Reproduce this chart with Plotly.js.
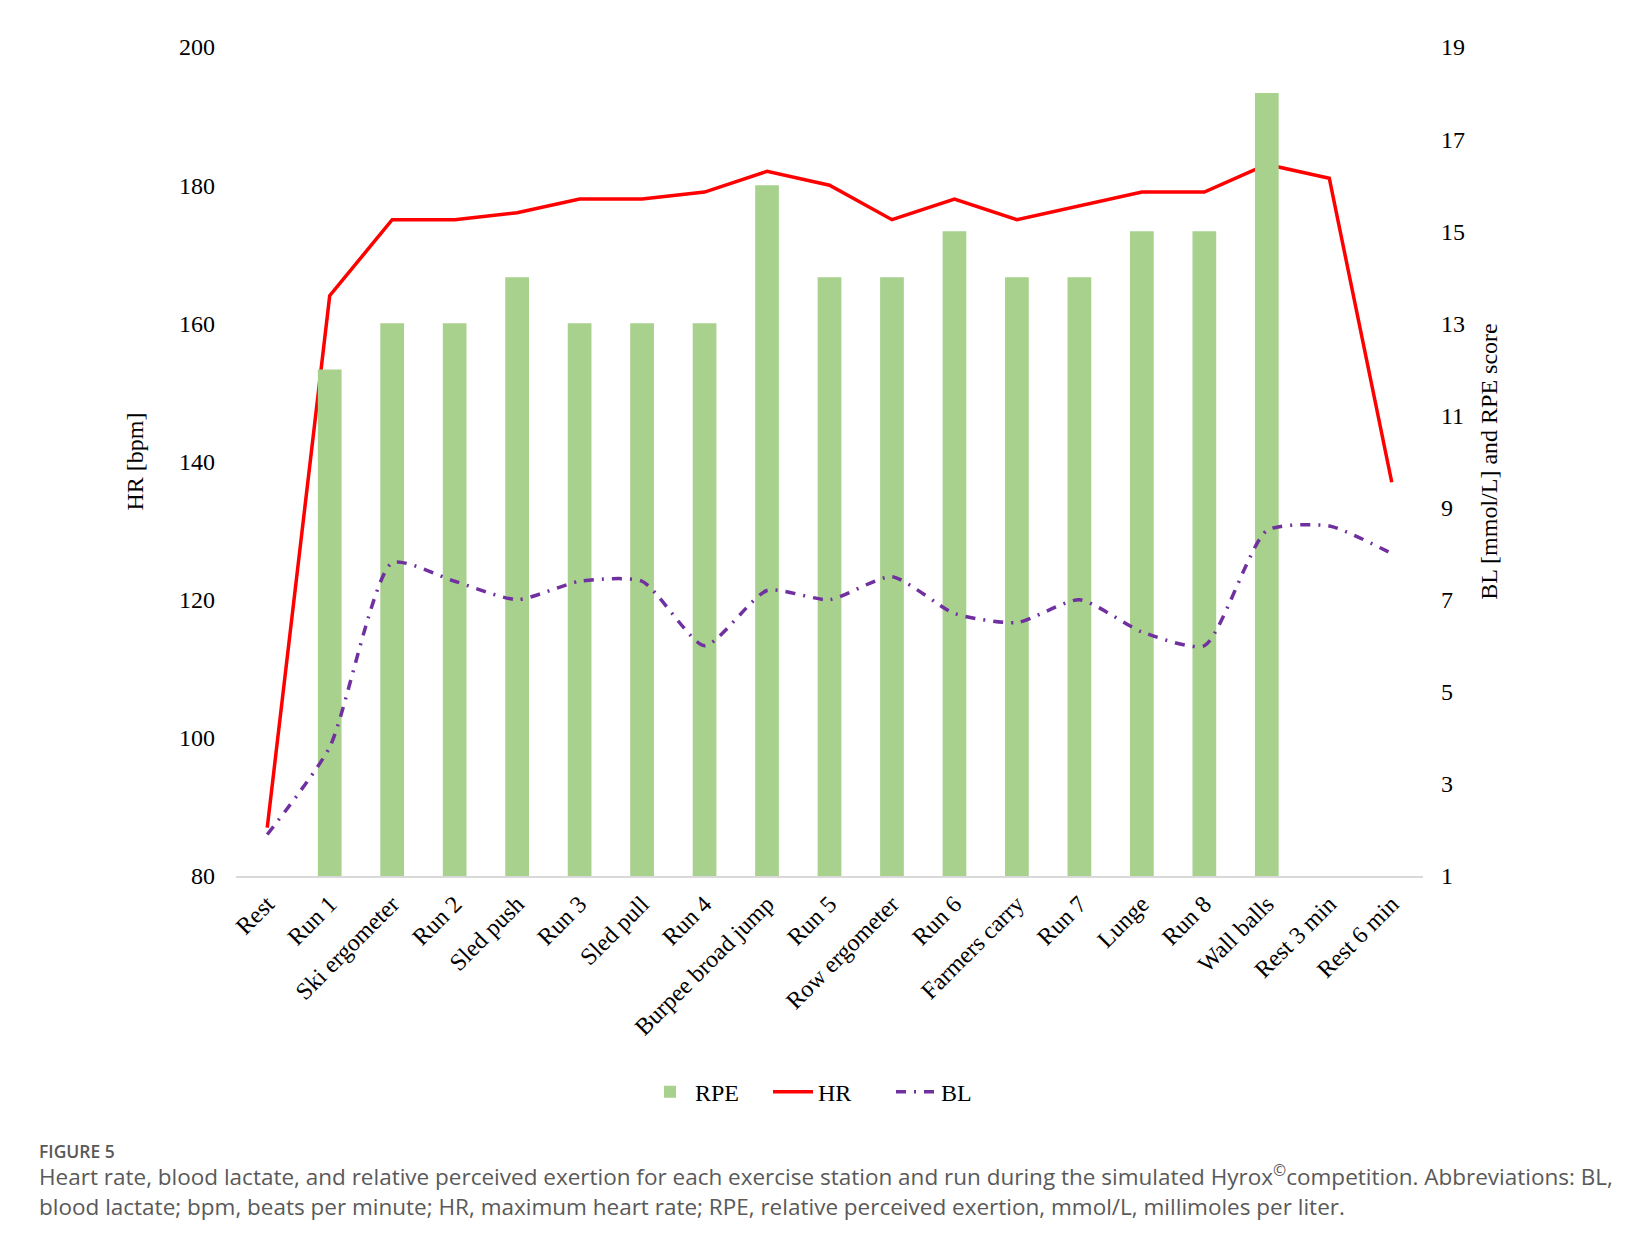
<!DOCTYPE html>
<html>
<head>
<meta charset="utf-8">
<script src="https://cdn.plot.ly/plotly-3.0.1.min.js"></script>
<style>
  html, body { margin: 0; padding: 0; background: #fff; }
  #plotly { width: 1632px; height: 1248px; }
</style>
</head>
<body>
<div id="plotly"></div>
<script>
var stations, hrValues, rpeValues, blValues, hrTicks, rightTicks, gridTicks;
var serif = '"Liberation Serif", "Times New Roman", serif';
var sans = '"Open Sans", "Noto Sans", sans-serif';

stations = ['Rest', 'Run 1', 'Ski ergometer', 'Run 2', 'Sled push', 'Run 3', 'Sled pull',
  'Run 4', 'Burpee broad jump', 'Run 5', 'Row ergometer', 'Run 6', 'Farmers carry',
  'Run 7', 'Lunge', 'Run 8', 'Wall balls', 'Rest 3 min', 'Rest 6 min'];

// HR [bpm], left axis
hrValues = [87, 164, 175, 175, 176, 178, 178, 179, 182, 180, 175, 178, 175, 177, 179, 179, 183, 181, 137];

// RPE score, right axis (no rating at rest)
rpeValues = [null, 12, 13, 13, 14, 13, 13, 13, 16, 14, 14, 15, 14, 14, 15, 15, 18, null, null];

// BL [mmol/L], right axis
blValues = [1.9, 3.8, 7.8, 7.4, 7.0, 7.4, 7.4, 6.0, 7.2, 7.0, 7.5, 6.7, 6.5, 7.0, 6.3, 6.0, 8.5, 8.6, 8.0];

hrTicks = [80, 100, 120, 140, 160, 180, 200];
gridTicks = [100, 120, 140, 160, 180];
rightTicks = [1, 3, 5, 7, 9, 11, 13, 15, 17, 19];

var rpe = {
  x: stations,
  y: rpeValues,
  name: 'RPE',
  type: 'bar',
  yaxis: 'y2',
  marker: { color: '#a9d18e' }
};

var hr = {
  x: stations,
  y: hrValues,
  name: 'HR',
  type: 'scatter',
  mode: 'lines',
  yaxis: 'y',
  line: { color: '#ff0000', width: 3.5 }
};

var bl = {
  x: stations,
  y: blValues,
  name: 'BL',
  type: 'scatter',
  mode: 'lines',
  yaxis: 'y2',
  line: { color: '#7030a0', width: 3.5, dash: '10px,8px,2px,8px', shape: 'spline', smoothing: 0.6 }
};

var layout = {
  width: 1632,
  height: 1248,
  margin: { l: 236, r: 209, t: 47, b: 372 },
  paper_bgcolor: '#ffffff',
  plot_bgcolor: '#ffffff',
  bargap: 0.62,
  showlegend: true,
  legend: {
    orientation: 'h',
    x: 0.5,
    xanchor: 'center',
    y: -0.2606,
    yanchor: 'middle',
    font: { family: serif, size: 24, color: '#000' },
    itemwidth: 40,
    entrywidth: 68,
    entrywidthmode: 'pixels',
    traceorder: 'normal'
  },
  xaxis: {
    type: 'category',
    showline: true,
    linecolor: '#d9d9d9',
    linewidth: 1.5,
    showgrid: false,
    ticks: '',
    tickangle: -45,
    ticklabelstandoff: 3,
    tickfont: { family: serif, size: 24, color: '#000' }
  },
  yaxis: {
    range: [80, 200],
    tickvals: hrTicks,
    showgrid: false,
    zeroline: false,
    showline: false,
    ticks: '',
    ticklabelstandoff: 20,
    tickfont: { family: serif, size: 24, color: '#000' },
    title: { text: 'HR [bpm]', font: { family: serif, size: 24, color: '#000' }, standoff: 28 }
  },
  yaxis2: {
    range: [1, 19],
    tickvals: rightTicks,
    overlaying: 'y',
    side: 'right',
    showgrid: false,
    zeroline: false,
    showline: false,
    ticks: '',
    ticklabelstandoff: 17,
    tickfont: { family: serif, size: 24, color: '#000' },
    title: { text: 'BL [mmol/L] and RPE score', font: { family: serif, size: 24, color: '#000' }, standoff: 16 }
  },
  yaxis3: {
    range: [80, 200],
    tickvals: gridTicks,
    overlaying: 'y',
    side: 'left',
    showticklabels: false,
    showgrid: true,
    gridcolor: '#e8e8e8',
    gridwidth: 1.3,
    zeroline: false,
    showline: false,
    ticks: ''
  },
  annotations: [
    {
      xref: 'paper', yref: 'paper',
      x: -0.168, y: -0.3314,
      xanchor: 'left', yanchor: 'middle',
      showarrow: false,
      text: 'FIGURE 5',
      font: { family: sans, size: 17.5, color: '#595959', weight: 600 }
    },
    {
      xref: 'paper', yref: 'paper',
      x: -0.168, y: -0.3387,
      xanchor: 'left', yanchor: 'top',
      align: 'left',
      showarrow: false,
      text: 'Heart rate, blood lactate, and relative perceived exertion for each exercise station and run during the simulated Hyrox<sup>©</sup>competition. Abbreviations: BL,<br>blood lactate; bpm, beats per minute; HR, maximum heart rate; RPE, relative perceived exertion, mmol/L, millimoles per liter.',
      font: { family: sans, size: 22.5, color: '#595959' }
    }
  ]
};

var config = { staticPlot: true };

Plotly.newPlot('plotly', [rpe, hr, bl], layout, config);
</script>
</body>
</html>
